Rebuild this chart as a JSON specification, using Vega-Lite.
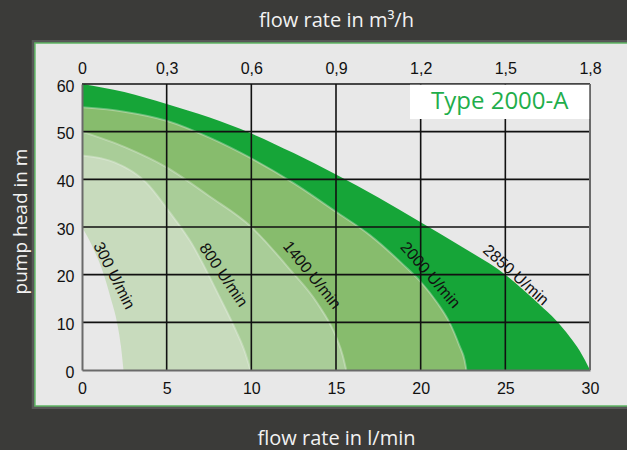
{
  "$schema": "https://vega.github.io/schema/vega-lite/v6.json",
  "width": 508,
  "height": 286,
  "autosize": {"type": "none"},
  "padding": {"left": 82, "top": 84, "right": 37, "bottom": 80},
  "background": "#3b3b39",
  "config": {
    "view": {"stroke": null},
    "axis": {
      "labelFont": "Liberation Sans",
      "labelFontSize": 16,
      "labelColor": "#111111",
      "titleFont": "Open Sans",
      "titleFontSize": 20,
      "titleFontWeight": "normal",
      "titleColor": "#f2f2f2",
      "ticks": false,
      "grid": false,
      "domainColor": "#6a6a6a",
      "domainWidth": 2,
      "labelOverlap": false,
      "labelFlush": false
    }
  },
  "datasets": {
    "curves": [
      {"curve": "2850", "q": 0, "h": 60},
      {"curve": "2850", "q": 2.5, "h": 58.3},
      {"curve": "2850", "q": 5, "h": 55.8},
      {"curve": "2850", "q": 7.5, "h": 53},
      {"curve": "2850", "q": 10, "h": 49.6},
      {"curve": "2850", "q": 12.5, "h": 45.5},
      {"curve": "2850", "q": 15, "h": 41},
      {"curve": "2850", "q": 17.5, "h": 36.2},
      {"curve": "2850", "q": 20, "h": 31},
      {"curve": "2850", "q": 22.5, "h": 25.7},
      {"curve": "2850", "q": 25, "h": 20},
      {"curve": "2850", "q": 26, "h": 17},
      {"curve": "2850", "q": 27, "h": 13.8},
      {"curve": "2850", "q": 28, "h": 10.4},
      {"curve": "2850", "q": 28.8, "h": 7},
      {"curve": "2850", "q": 29.4, "h": 4},
      {"curve": "2850", "q": 30, "h": 0},
      {"curve": "2000", "q": 0, "h": 55.1},
      {"curve": "2000", "q": 2.5, "h": 54.2},
      {"curve": "2000", "q": 5, "h": 52.3},
      {"curve": "2000", "q": 7.5, "h": 48.8},
      {"curve": "2000", "q": 10, "h": 44.4},
      {"curve": "2000", "q": 12.5, "h": 39.2},
      {"curve": "2000", "q": 15, "h": 33.2},
      {"curve": "2000", "q": 17, "h": 28.3},
      {"curve": "2000", "q": 19, "h": 22},
      {"curve": "2000", "q": 20, "h": 18.5},
      {"curve": "2000", "q": 21, "h": 14},
      {"curve": "2000", "q": 21.7, "h": 10},
      {"curve": "2000", "q": 22.3, "h": 5},
      {"curve": "2000", "q": 22.6, "h": 2},
      {"curve": "2000", "q": 22.7, "h": 0},
      {"curve": "1400", "q": 0, "h": 50},
      {"curve": "1400", "q": 2.5, "h": 46.8},
      {"curve": "1400", "q": 5, "h": 42.5},
      {"curve": "1400", "q": 7.5, "h": 36.5},
      {"curve": "1400", "q": 10, "h": 30},
      {"curve": "1400", "q": 12.3, "h": 21},
      {"curve": "1400", "q": 13.9, "h": 14},
      {"curve": "1400", "q": 15, "h": 7},
      {"curve": "1400", "q": 15.4, "h": 3},
      {"curve": "1400", "q": 15.6, "h": 0},
      {"curve": "800", "q": 0, "h": 45},
      {"curve": "800", "q": 1.9, "h": 43.6},
      {"curve": "800", "q": 3.8, "h": 39.3},
      {"curve": "800", "q": 5.2, "h": 33},
      {"curve": "800", "q": 6.4, "h": 27},
      {"curve": "800", "q": 8.1, "h": 15.5},
      {"curve": "800", "q": 9.1, "h": 8.2},
      {"curve": "800", "q": 9.6, "h": 4},
      {"curve": "800", "q": 9.95, "h": 0},
      {"curve": "300", "q": 0, "h": 30},
      {"curve": "300", "q": 0.6, "h": 26},
      {"curve": "300", "q": 1.26, "h": 20.3},
      {"curve": "300", "q": 1.7, "h": 15},
      {"curve": "300", "q": 2.05, "h": 10.3},
      {"curve": "300", "q": 2.3, "h": 5},
      {"curve": "300", "q": 2.45, "h": 0}
    ],
    "labels": [
      {"label": "300 U/min", "q": 1.89, "h": 19.8},
      {"label": "800 U/min", "q": 8.35, "h": 19.9},
      {"label": "1400 U/min", "q": 13.57, "h": 19.9},
      {"label": "2000 U/min", "q": 20.56, "h": 19.9},
      {"label": "2850 U/min", "q": 25.62, "h": 19.9}
    ],
    "vgrid": [{"q": 5}, {"q": 10}, {"q": 15}, {"q": 20}, {"q": 25}],
    "hgrid": [{"h": 10}, {"h": 20}, {"h": 30}, {"h": 40}, {"h": 50}, {"h": 60}],
    "one": [{"name": "Type 2000-A"}]
  },
  "resolve": {"axis": {"x": "independent", "y": "independent"}},
  "layer": [
    {
      "data": {"name": "one"},
      "mark": {"type": "rect", "fill": "#575757", "clip": false},
      "encoding": {
        "x": {"datum": -2.97, "type": "quantitative", "scale": {"domain": [0, 30], "nice": false}, "axis": null},
        "x2": {"datum": 33.5},
        "y": {"datum": -8.2, "type": "quantitative", "scale": {"domain": [0, 60], "nice": false}, "axis": null},
        "y2": {"datum": 69.25}
      }
    },
    {
      "data": {"name": "one"},
      "mark": {"type": "rect", "fill": "#e8e8e8", "stroke": "#5db463", "strokeWidth": 1.5, "clip": false},
      "encoding": {
        "x": {"datum": -2.78, "type": "quantitative", "axis": null},
        "x2": {"datum": 33.3},
        "y": {"datum": -7.55, "type": "quantitative", "axis": null},
        "y2": {"datum": 68.6}
      }
    },
    {
      "data": {"name": "curves"},
      "transform": [{"filter": "datum.curve == '2850'"}],
      "mark": {"type": "area", "color": "#16a538", "interpolate": "monotone", "opacity": 1},
      "encoding": {
        "x": {
          "field": "q", "type": "quantitative",
          "axis": {
            "orient": "bottom",
            "zindex": 2,
            "values": [0, 5, 10, 15, 20, 25, 30],
            "title": "flow rate in l/min",
            "labelPadding": 10,
            "titleY": 68,
            "titleBaseline": "middle"
          }
        },
        "y": {
          "field": "h", "type": "quantitative",
          "axis": {
            "orient": "left",
            "zindex": 2,
            "values": [0, 10, 20, 30, 40, 50, 60],
            "title": "pump head in m",
            "titleFontSize": 19,
            "labelPadding": 8,
            "labelOffset": 2,
            "titleX": -62,
            "titleY": 137,
            "titleBaseline": "middle"
          }
        }
      }
    },
    {
      "data": {"name": "curves"},
      "transform": [{"filter": "datum.curve == '2000'"}],
      "mark": {"type": "area", "color": "#87bc6d", "interpolate": "monotone", "opacity": 1},
      "encoding": {
        "x": {"field": "q", "type": "quantitative", "axis": null},
        "y": {"field": "h", "type": "quantitative", "axis": null}
      }
    },
    {
      "data": {"name": "curves"},
      "transform": [{"filter": "datum.curve == '1400'"}],
      "mark": {"type": "area", "color": "#a9cd98", "interpolate": "monotone", "opacity": 1},
      "encoding": {
        "x": {"field": "q", "type": "quantitative", "axis": null},
        "y": {"field": "h", "type": "quantitative", "axis": null}
      }
    },
    {
      "data": {"name": "curves"},
      "transform": [{"filter": "datum.curve == '800'"}],
      "mark": {"type": "area", "color": "#c8dbbd", "interpolate": "monotone", "opacity": 1},
      "encoding": {
        "x": {"field": "q", "type": "quantitative", "axis": null},
        "y": {"field": "h", "type": "quantitative", "axis": null}
      }
    },
    {
      "data": {"name": "curves"},
      "transform": [{"filter": "datum.curve == '300'"}],
      "mark": {"type": "area", "color": "#e8e8e8", "interpolate": "monotone", "opacity": 1},
      "encoding": {
        "x": {"field": "q", "type": "quantitative", "axis": null},
        "y": {"field": "h", "type": "quantitative", "axis": null}
      }
    },
    {
      "data": {"name": "curves"},
      "transform": [{"filter": "datum.curve == '2000' || datum.curve == '1400' || datum.curve == '800'"}],
      "mark": {"type": "line", "color": "#eef4ea", "strokeWidth": 2, "opacity": 0.35, "interpolate": "monotone"},
      "encoding": {
        "x": {"field": "q", "type": "quantitative", "axis": null},
        "y": {"field": "h", "type": "quantitative", "axis": null},
        "detail": {"field": "curve"}
      }
    },
    {
      "data": {"name": "vgrid"},
      "mark": {"type": "rule", "color": "#111111", "strokeWidth": 1.6},
      "encoding": {
        "x": {
          "field": "q", "type": "quantitative",
          "axis": {
            "orient": "top",
            "zindex": 2,
            "values": [0, 5, 10, 15, 20, 25, 30],
            "labelExpr": "datum.value == 0 ? '0' : replace(format(datum.value * 0.06, '.1f'), '.', ',')",
            "domain": false,
            "labelPadding": 8,
            "title": "flow rate in m³/h",
            "titleY": -64,
            "titleBaseline": "middle"
          }
        }
      }
    },
    {
      "data": {"name": "hgrid"},
      "mark": {"type": "rule", "color": "#111111", "strokeWidth": 1.6},
      "encoding": {
        "y": {"field": "h", "type": "quantitative", "axis": null}
      }
    },
    {
      "data": {"name": "one"},
      "mark": {"type": "rule", "color": "#6a6a6a", "strokeWidth": 2},
      "encoding": {
        "x": {"datum": 30, "type": "quantitative", "axis": null}
      }
    },
    {
      "data": {"name": "one"},
      "mark": {"type": "rect", "fill": "#ffffff"},
      "encoding": {
        "x": {"datum": 19.37, "type": "quantitative", "axis": null},
        "x2": {"datum": 29.95},
        "y": {"datum": 52.65, "type": "quantitative", "axis": null},
        "y2": {"datum": 59.85}
      }
    },
    {
      "data": {"name": "one"},
      "mark": {"type": "text", "font": "Open Sans", "fontSize": 24, "color": "#1fae4b", "align": "center", "baseline": "middle"},
      "encoding": {
        "x": {"datum": 24.67, "type": "quantitative", "axis": null},
        "y": {"datum": 56.3, "type": "quantitative", "axis": null},
        "text": {"field": "name"}
      }
    },
    {
      "data": {"name": "labels"},
      "transform": [{"filter": "datum.label == '300 U/min'"}],
      "mark": {"type": "text", "font": "Liberation Sans", "fontSize": 16, "color": "#111111", "align": "center", "baseline": "middle", "angle": 63},
      "encoding": {
        "x": {"field": "q", "type": "quantitative", "axis": null},
        "y": {"field": "h", "type": "quantitative", "axis": null},
        "text": {"field": "label"}
      }
    },
    {
      "data": {"name": "labels"},
      "transform": [{"filter": "datum.label == '800 U/min'"}],
      "mark": {"type": "text", "font": "Liberation Sans", "fontSize": 16, "color": "#111111", "align": "center", "baseline": "middle", "angle": 56},
      "encoding": {
        "x": {"field": "q", "type": "quantitative", "axis": null},
        "y": {"field": "h", "type": "quantitative", "axis": null},
        "text": {"field": "label"}
      }
    },
    {
      "data": {"name": "labels"},
      "transform": [{"filter": "datum.label == '1400 U/min'"}],
      "mark": {"type": "text", "font": "Liberation Sans", "fontSize": 16, "color": "#111111", "align": "center", "baseline": "middle", "angle": 51},
      "encoding": {
        "x": {"field": "q", "type": "quantitative", "axis": null},
        "y": {"field": "h", "type": "quantitative", "axis": null},
        "text": {"field": "label"}
      }
    },
    {
      "data": {"name": "labels"},
      "transform": [{"filter": "datum.label == '2000 U/min'"}],
      "mark": {"type": "text", "font": "Liberation Sans", "fontSize": 16, "color": "#111111", "align": "center", "baseline": "middle", "angle": 49},
      "encoding": {
        "x": {"field": "q", "type": "quantitative", "axis": null},
        "y": {"field": "h", "type": "quantitative", "axis": null},
        "text": {"field": "label"}
      }
    },
    {
      "data": {"name": "labels"},
      "transform": [{"filter": "datum.label == '2850 U/min'"}],
      "mark": {"type": "text", "font": "Liberation Sans", "fontSize": 16, "color": "#111111", "align": "center", "baseline": "middle", "angle": 42},
      "encoding": {
        "x": {"field": "q", "type": "quantitative", "axis": null},
        "y": {"field": "h", "type": "quantitative", "axis": null},
        "text": {"field": "label"}
      }
    }
  ]
}
